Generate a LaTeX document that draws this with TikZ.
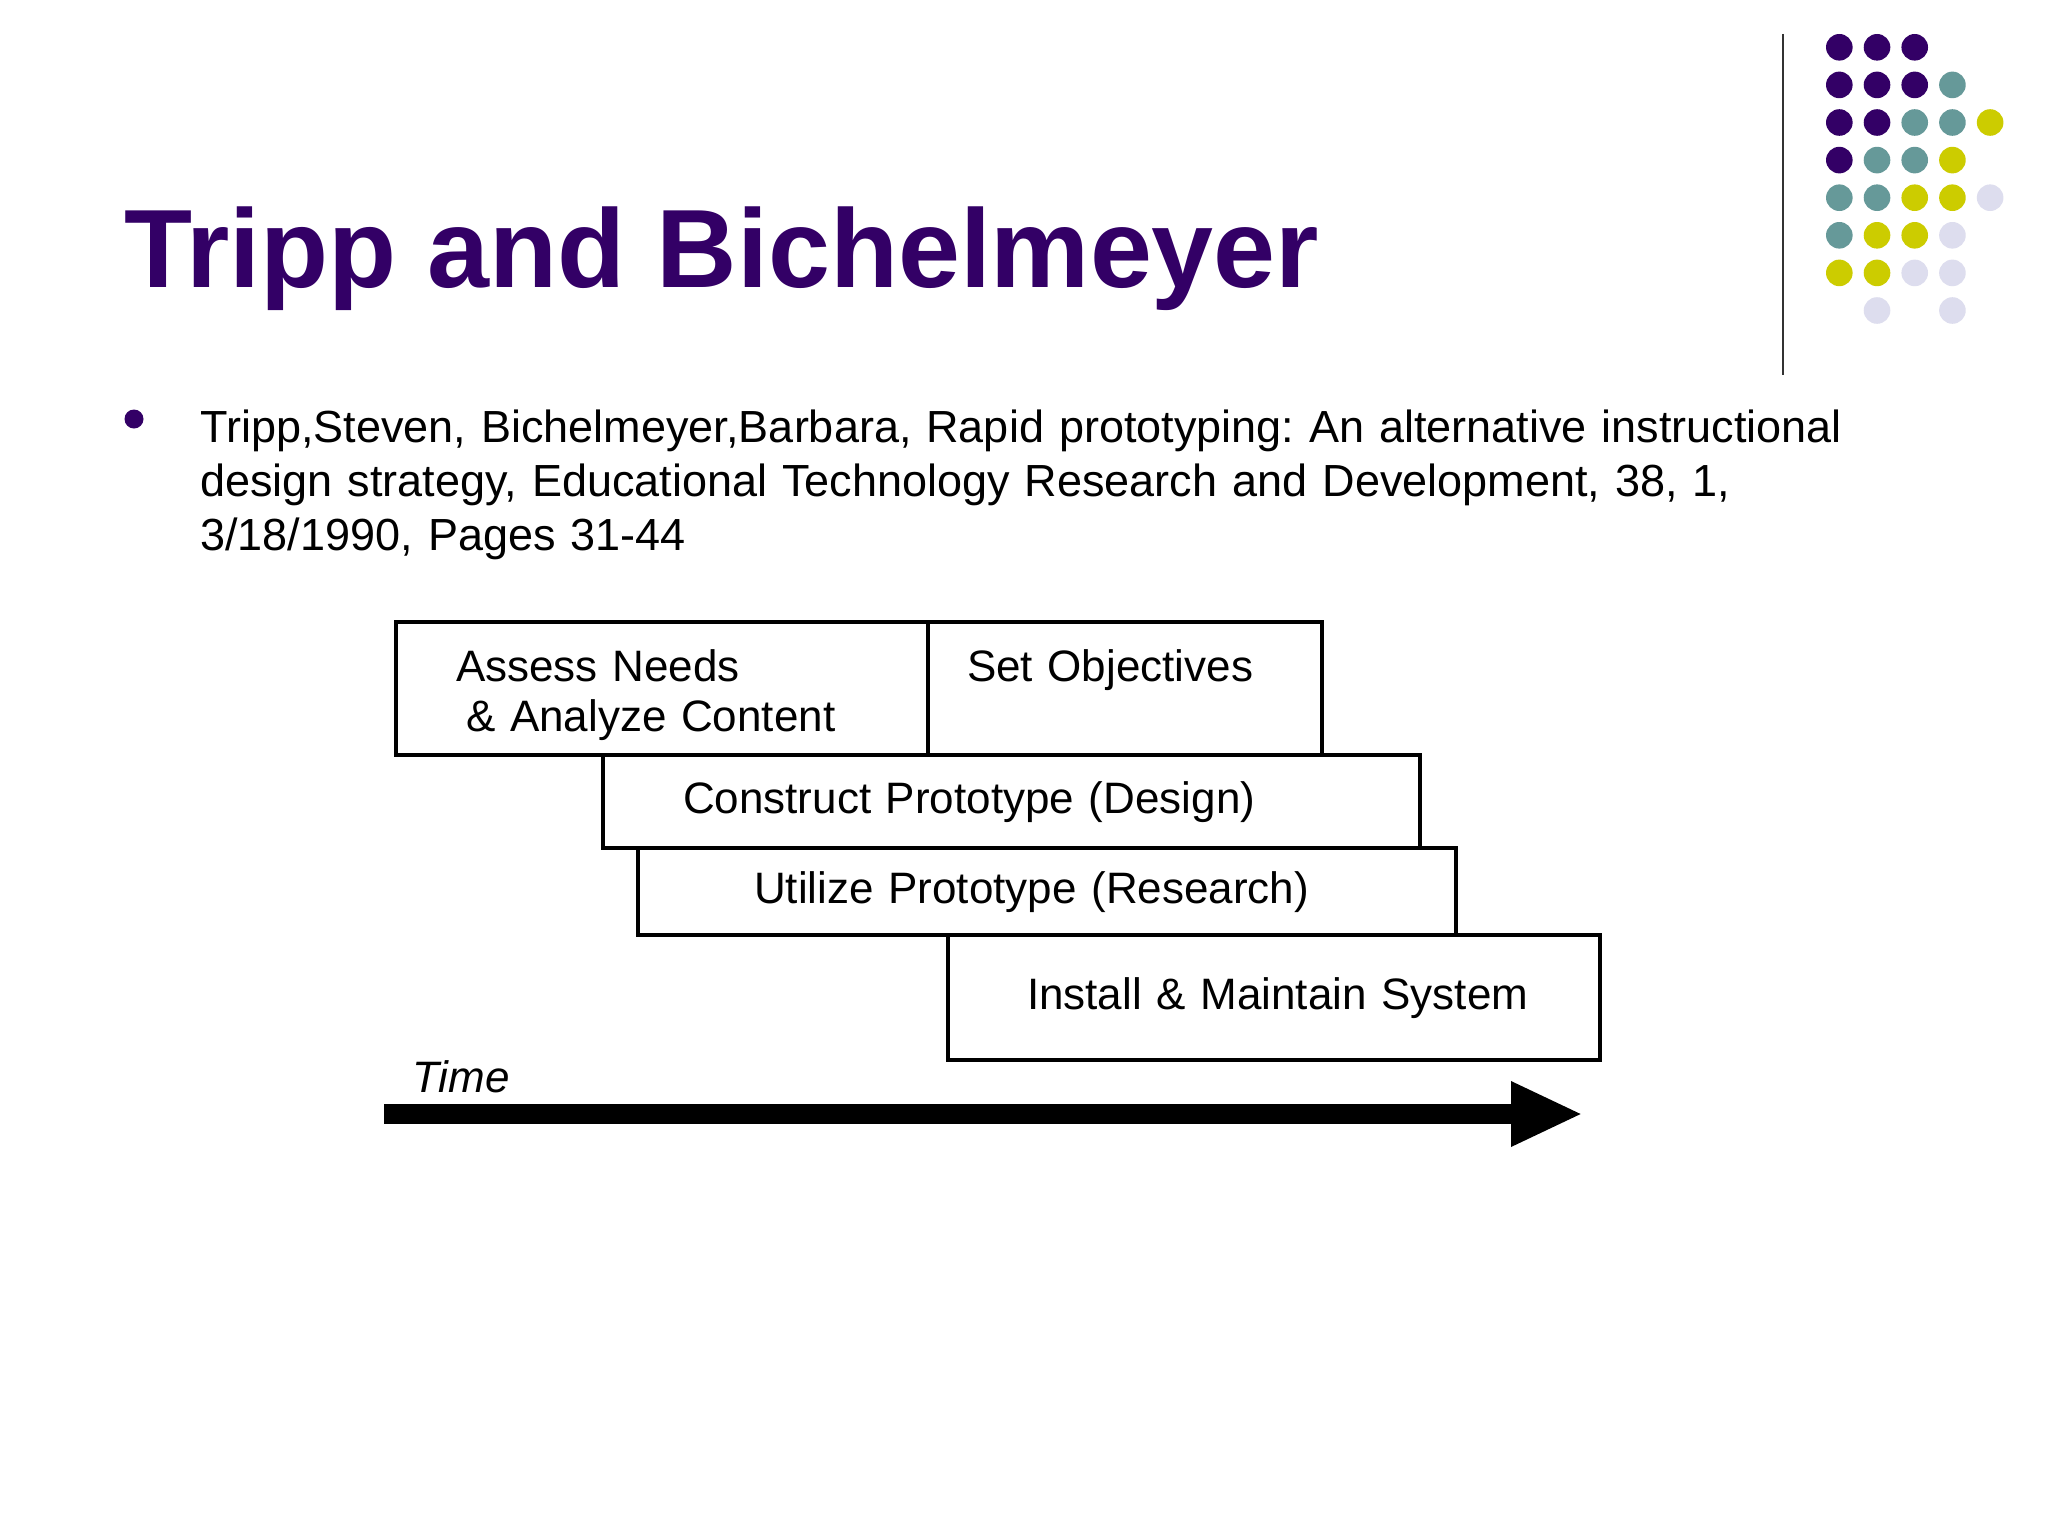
\documentclass[tikz,border=0pt]{standalone}
\usepackage{fontspec}
\setmainfont{Liberation Sans}
\usetikzlibrary{arrows.meta}
\definecolor{slidepurple}{RGB}{51,0,102}
\definecolor{dotteal}{RGB}{102,153,153}
\definecolor{dotyellow}{RGB}{204,204,0}
\definecolor{dotlilac}{RGB}{221,221,238}
\newcommand*{\stagefont}{\fontsize{22}{25}\selectfont}
\frenchspacing

\begin{document}
\begin{tikzpicture}[x=0.5pt, y=-0.5pt,
    slide_title/.style ={anchor=base west, inner sep=0pt, text=slidepurple,
      font=\fontsize{55.7}{60}\selectfont\bfseries},
    slide_text/.style ={anchor=base west, inner sep=0pt, text width=900pt,
      align=left, font=\fontsize{22.5}{27}\selectfont},
    stage/.style 2 args ={rectangle, draw=black, line width=2pt, fill=white,
      anchor=north west, inner sep=0pt, text width=#1, minimum height=#2,
      align=left, text height=16pt, text depth=4.5pt, font=\stagefont},
    time_label/.style ={anchor=base west, inner sep=0pt,
      font=\fontsize{22}{25}\selectfont\itshape},
    timeline/.style ={draw, line width=10pt, -{Triangle[length=36pt, width=30pt]}}]
    \useasboundingbox[fill=white] (0,0) rectangle (2048,1536);
    % corner decoration
    \draw[line width=1pt, black!80] (1783,34) -- (1783,375);
    \foreach \c/\r/\col in {0/0/slidepurple, 1/0/slidepurple, 2/0/slidepurple,
        0/1/slidepurple, 1/1/slidepurple, 2/1/slidepurple, 3/1/dotteal,
        0/2/slidepurple, 1/2/slidepurple, 2/2/dotteal, 3/2/dotteal, 4/2/dotyellow,
        0/3/slidepurple, 1/3/dotteal, 2/3/dotteal, 3/3/dotyellow,
        0/4/dotteal, 1/4/dotteal, 2/4/dotyellow, 3/4/dotyellow, 4/4/dotlilac,
        0/5/dotteal, 1/5/dotyellow, 2/5/dotyellow, 3/5/dotlilac,
        0/6/dotyellow, 1/6/dotyellow, 2/6/dotlilac, 3/6/dotlilac,
        1/7/dotlilac, 3/7/dotlilac}
      \fill[\col] ({1839.3+37.7*\c},{47.3+37.6*\r}) circle (6.65pt);
    % title and reference
    \node[slide_title] (title) at (124,287) {Tripp and Bichelmeyer};
    \fill[slidepurple] (134,419) circle (4.75pt);
    \node[slide_text] (reference) at (200,442)
      {Tripp,Steven, Bichelmeyer,Barbara, Rapid prototyping: An alternative instructional\\
       design strategy, Educational Technology Research and Development, 38, 1,\\
       3/18/1990, Pages 31-44};
    % row 1
    \node[stage={266pt}{66.5pt}, text depth=23.5pt] (assess) at (394,620)
      {\hspace*{30pt}Assess Needs\\\hspace*{35pt}\& Analyze Content};
    \node[stage={197pt}{66.5pt}, text depth=23.5pt] (objectives) at (926,620)
      {\hspace*{19.5pt}Set Objectives};
    % row 2
    \node[stage={408.5pt}{46.5pt}] (construct) at (601,753)
      {\hspace*{40pt}Construct Prototype (Design)};
    % row 3
    \node[stage={409pt}{43.5pt}] (utilize) at (636,846)
      {\hspace*{58pt}Utilize Prototype (Research)};
    % row 4
    \node[stage={326pt}{62.5pt}] (install) at (946,933)
      {\hspace*{39.5pt}Install \& Maintain System};
    % time axis
    \node[time_label] (time) at (412,1092) {Time};
    \coordinate (time_start) at (384,1114);
    \coordinate (time_end) at (1583,1114);
    \path[timeline] (time_start) -- (time_end);
\end{tikzpicture}
\end{document}
